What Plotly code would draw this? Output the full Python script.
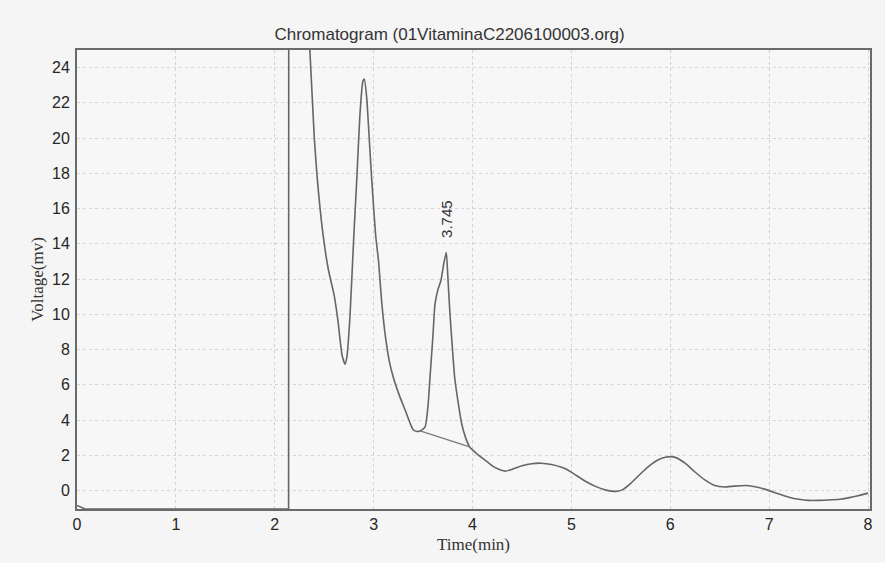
import plotly.graph_objects as go

# Chromatogram trace (time in min, voltage in mV)
time_min = [0.0, 0.08, 2.14, 2.142, 2.20, 2.355, 2.40, 2.43, 2.48, 2.54, 2.60, 2.64, 2.68, 2.71,
            2.73, 2.76, 2.80, 2.83, 2.86, 2.89, 2.905, 2.93, 2.95, 2.98, 3.02, 3.05, 3.08, 3.12,
            3.16, 3.20, 3.26, 3.32, 3.37, 3.40, 3.44, 3.47, 3.52, 3.55, 3.57, 3.60, 3.62, 3.65,
            3.68, 3.71, 3.735, 3.75, 3.77, 3.80, 3.82, 3.86, 3.89, 3.93, 3.97, 4.05, 4.12, 4.20,
            4.26, 4.33, 4.40, 4.50, 4.60, 4.69, 4.80, 4.90, 4.96, 5.05, 5.15, 5.25, 5.35, 5.45,
            5.52, 5.60, 5.70, 5.80, 5.90, 6.00, 6.05, 6.15, 6.25, 6.35, 6.45, 6.55, 6.65, 6.77,
            6.87, 6.97, 7.10, 7.20, 7.30, 7.40, 7.50, 7.60, 7.71, 7.80, 7.90, 8.00]
voltage_mv = [-0.85, -1.05, -1.05, 40.0, 40.0, 25.0, 20.0, 17.7, 14.9, 12.6, 11.1, 9.6, 7.7, 7.17,
              7.6, 9.8, 14.5, 17.7, 21.2, 23.2, 23.35, 22.3, 20.5, 17.7, 14.5, 13.0, 10.8, 8.7,
              7.3, 6.4, 5.4, 4.55, 3.8, 3.45, 3.35, 3.38, 3.6, 4.8, 6.4, 8.8, 10.55, 11.4,
              11.9, 12.9, 13.5, 12.2, 10.2, 7.8, 6.4, 4.8, 3.8, 3.0, 2.48, 2.05, 1.75, 1.40,
              1.22, 1.1, 1.2, 1.4, 1.52, 1.55, 1.48, 1.32, 1.18, 0.85, 0.5, 0.22, 0.02, -0.05,
              0.05, 0.4, 0.95, 1.45, 1.8, 1.92, 1.88, 1.55, 1.05, 0.6, 0.28, 0.2, 0.25, 0.28,
              0.2, 0.05, -0.2, -0.38, -0.5, -0.56, -0.56, -0.54, -0.5, -0.42, -0.3, -0.15]

# The injection step (sharp, drawn straight) ends where the smooth signal begins
injection_end_min = 2.355

# Integration baseline under the 3.745 peak
baseline_time = [3.47, 3.97]
baseline_mv = [3.38, 2.48]

# Peak label
peak_time = 3.73
peak_label = "3.745"
peak_label_y = 15.4

x_ticks = [0, 1, 2, 3, 4, 5, 6, 7, 8]
y_ticks = [0, 2, 4, 6, 8, 10, 12, 14, 16, 18, 20, 22, 24]

split = time_min.index(injection_end_min)

fig = go.Figure()
fig.add_trace(go.Scatter(x=time_min[:split + 1], y=voltage_mv[:split + 1], mode="lines",
                         line=dict(color="#666666", width=1.6),
                         showlegend=False, hoverinfo="skip"))
fig.add_trace(go.Scatter(x=time_min[split:], y=voltage_mv[split:], mode="lines",
                         line=dict(color="#666666", width=1.6, shape="spline", smoothing=0.5),
                         showlegend=False, hoverinfo="skip"))
fig.add_trace(go.Scatter(x=baseline_time, y=baseline_mv, mode="lines",
                         line=dict(color="#7a7a7a", width=1.3), showlegend=False,
                         hoverinfo="skip"))

fig.add_annotation(x=peak_time, y=peak_label_y, text=peak_label, textangle=-90,
                   showarrow=False, xanchor="center", yanchor="middle",
                   font=dict(family="Liberation Sans, Arial", size=15, color="#333333"))

fig.update_layout(
    width=885, height=563,
    margin=dict(l=77, r=12, t=50, b=50),
    paper_bgcolor="#f5f5f5",
    plot_bgcolor="#f7f7f7",
    title=dict(text="Chromatogram (01VitaminaC2206100003.org)",
               xref="container", x=0.508, xanchor="center",
               yref="container", y=1 - 34 / 563, yanchor="middle",
               font=dict(family="Liberation Sans, Arial", size=17, color="#333333")),
    xaxis=dict(range=[0, 8.02], tickvals=x_ticks, ticktext=[str(v) for v in x_ticks],
               showgrid=True, gridcolor="#d2d2d2", griddash="dot", gridwidth=1,
               zeroline=False, showline=True, linecolor="#6a6a6a", linewidth=2, mirror=True,
               ticks="", tickfont=dict(family="Liberation Sans, Arial", size=16, color="#262626"),
               title=dict(text="Time(min)", standoff=6,
                          font=dict(family="Liberation Serif, Times New Roman", size=17,
                                    color="#333333"))),
    yaxis=dict(range=[-1.05, 25.0], tickvals=y_ticks, ticktext=[str(v) for v in y_ticks],
               showgrid=True, gridcolor="#d6d6d6", griddash="dot", gridwidth=1,
               zeroline=False, showline=True, linecolor="#6a6a6a", linewidth=2, mirror=True,
               ticks="", ticklabelstandoff=2,
               tickfont=dict(family="Liberation Sans, Arial", size=16, color="#262626"),
               title=dict(text="Voltage(mv)", standoff=4,
                          font=dict(family="Liberation Serif, Times New Roman", size=17,
                                    color="#333333"))),
)

fig.write_html("out.html")
